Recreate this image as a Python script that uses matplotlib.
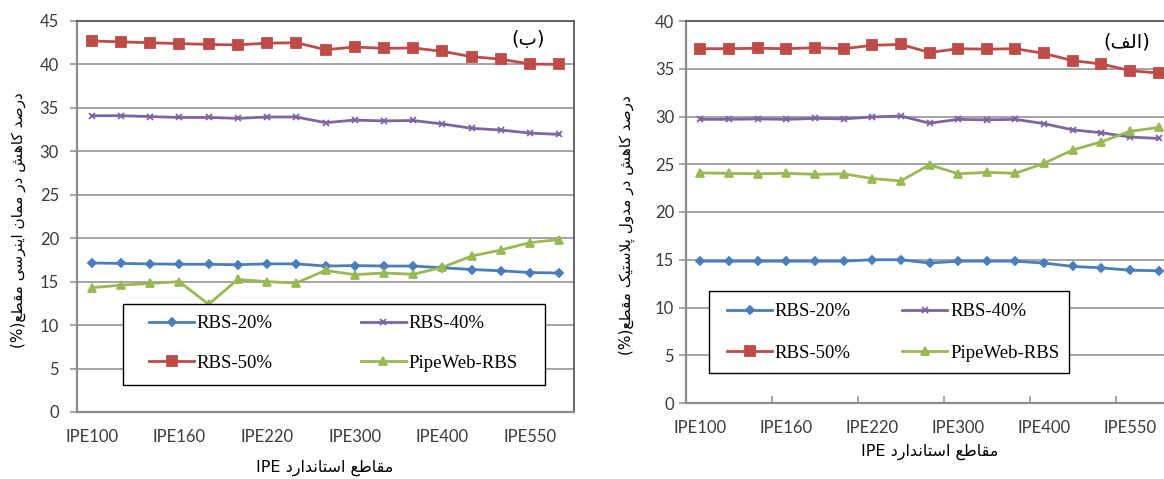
import matplotlib
matplotlib.use("Agg")
import matplotlib.pyplot as plt
from matplotlib.patches import Rectangle

# IPE sections on the x axis (labels shown every third one)
sections = ["IPE100", "IPE120", "IPE140", "IPE160", "IPE180", "IPE200", "IPE220", "IPE240", "IPE270",
            "IPE300", "IPE330", "IPE360", "IPE400", "IPE450", "IPE500", "IPE550", "IPE600"]

# (ب) reduction in moment of inertia (%)
ib_rbs20 = [17.15, 17.1, 17.05, 17.0, 17.0, 16.95, 17.05, 17.05, 16.8, 16.85, 16.8, 16.8, 16.6, 16.4, 16.25, 16.05, 16.0]
ib_rbs40 = [34.1, 34.1, 34.0, 33.9, 33.9, 33.8, 33.95, 33.95, 33.3, 33.6, 33.5, 33.55, 33.15, 32.65, 32.45, 32.1, 31.95]
ib_rbs50 = [42.7, 42.6, 42.5, 42.4, 42.3, 42.25, 42.45, 42.5, 41.7, 42.0, 41.85, 41.9, 41.5, 40.9, 40.6, 40.05, 40.0]
ib_pipe = [14.3, 14.6, 14.8, 15.0, 12.4, 15.25, 15.0, 14.85, 16.3, 15.8, 16.0, 15.85, 16.65, 17.95, 18.65, 19.5, 19.85]

# (الف) reduction in plastic modulus (%)
zp_rbs20 = [14.85, 14.85, 14.85, 14.85, 14.85, 14.85, 15.0, 15.0, 14.65, 14.85, 14.85, 14.85, 14.65, 14.3, 14.15, 13.9, 13.85]
zp_rbs40 = [29.7, 29.7, 29.75, 29.7, 29.8, 29.75, 29.95, 30.05, 29.3, 29.7, 29.65, 29.7, 29.25, 28.6, 28.3, 27.85, 27.7]
zp_rbs50 = [37.1, 37.1, 37.15, 37.1, 37.2, 37.1, 37.45, 37.55, 36.7, 37.1, 37.05, 37.1, 36.6, 35.85, 35.5, 34.8, 34.55]
zp_pipe = [24.1, 24.05, 24.0, 24.05, 23.95, 24.0, 23.5, 23.25, 24.95, 24.0, 24.15, 24.05, 25.1, 26.5, 27.35, 28.45, 28.85]

series_names = ["RBS-20%", "RBS-40%", "RBS-50%", "PipeWeb-RBS"]

# matplotlib has no arabic shaping, so pick the presentation forms by hand
# (isolated, final, initial, medial)
FORMS = {
    'ا': (0xFE8D, 0xFE8E, None, None),
    'ب': (0xFE8F, 0xFE90, 0xFE91, 0xFE92),
    'پ': (0xFB56, 0xFB57, 0xFB58, 0xFB59),
    'ت': (0xFE95, 0xFE96, 0xFE97, 0xFE98),
    'د': (0xFEA9, 0xFEAA, None, None),
    'ر': (0xFEAD, 0xFEAE, None, None),
    'س': (0xFEB1, 0xFEB2, 0xFEB3, 0xFEB4),
    'ش': (0xFEB5, 0xFEB6, 0xFEB7, 0xFEB8),
    'ص': (0xFEB9, 0xFEBA, 0xFEBB, 0xFEBC),
    'ط': (0xFEC1, 0xFEC2, 0xFEC3, 0xFEC4),
    'ع': (0xFEC9, 0xFECA, 0xFECB, 0xFECC),
    'ف': (0xFED1, 0xFED2, 0xFED3, 0xFED4),
    'ق': (0xFED5, 0xFED6, 0xFED7, 0xFED8),
    'ک': (0xFB8E, 0xFB8F, 0xFB90, 0xFB91),
    'ل': (0xFEDD, 0xFEDE, 0xFEDF, 0xFEE0),
    'م': (0xFEE1, 0xFEE2, 0xFEE3, 0xFEE4),
    'ن': (0xFEE5, 0xFEE6, 0xFEE7, 0xFEE8),
    'ه': (0xFEE9, 0xFEEA, 0xFEEB, 0xFEEC),
    'و': (0xFEED, 0xFEEE, None, None),
    'ی': (0xFBFC, 0xFBFD, 0xFBFE, 0xFBFF),
}


def fa(text):
    res = []
    i = 0
    while i < len(text):
        c = text[i]
        if c not in FORMS:
            res.append(c)
            i += 1
            continue
        prev = text[i - 1] if i > 0 else ''
        joined_prev = prev in FORMS and FORMS[prev][2] is not None
        if c == 'ل' and i + 1 < len(text) and text[i + 1] == 'ا':
            res.append(chr(0xFEFC if joined_prev else 0xFEFB))
            i += 2
            continue
        nxt = text[i + 1] if i + 1 < len(text) else ''
        joins_next = FORMS[c][2] is not None and nxt in FORMS
        iso, fin, ini, med = FORMS[c]
        if joined_prev and joins_next:
            g = med
        elif joined_prev:
            g = fin
        elif joins_next:
            g = ini
        else:
            g = iso
        res.append(chr(g))
        i += 1
    return ''.join(reversed(res))


colors = ["#4A7EBB", "#8064A2", "#BE4B48", "#98B954"]
markers = ["D", "x", "s", "^"]
msizes = [4, 5, 6.5, 6]
grid_c = "#8c8c8c"
tick_font = "Lato"
fa_font = "DejaVu Sans"

fig = plt.figure(figsize=(11.64, 4.79), dpi=100)


def draw_panel(ax, data, ymax, ypad, xticks_marks, box_right):
    x = list(range(len(sections)))
    for vals, name, c, m, ms in zip(data, series_names, colors, markers, msizes):
        ax.plot(x, vals, color=c, lw=2, marker=m, ms=ms, mec=c, mfc=c, mew=1.3, label=name, zorder=3)
    ax.set_xlim(-0.5, len(sections) - 0.5)
    ax.set_ylim(0, ymax)
    ax.set_yticks(range(0, ymax + 1, 5))
    ax.yaxis.grid(True, color=grid_c, lw=1.1)
    ax.set_axisbelow(True)
    # labels every 3rd section, tick marks between categories
    ax.set_xticks(x[::3])
    ax.set_xticklabels(sections[::3])
    ax.tick_params(axis="x", length=0, pad=12, labelsize=12, labelcolor="#3a3a3a")
    if xticks_marks:
        ax.set_xticks([k + 2.5 for k in range(0, 15, 3)], minor=True)
        ax.tick_params(axis="x", which="minor", direction="in", length=5, color=grid_c, width=1.1)
    ax.tick_params(axis="y", length=5, color=grid_c, width=1.1, pad=ypad, labelsize=12, labelcolor="#3a3a3a")
    for lab in ax.get_xticklabels() + ax.get_yticklabels():
        lab.set_fontfamily(tick_font)
    for s in ["left", "bottom"]:
        ax.spines[s].set_color(grid_c)
        ax.spines[s].set_linewidth(1.6)
    ax.spines["top"].set_color("#5a5a5a")
    ax.spines["top"].set_linewidth(1.3)
    ax.spines["right"].set_color("#5a5a5a")
    ax.spines["right"].set_linewidth(1.3)
    ax.spines["right"].set_visible(box_right)


def add_legend(ax, box, anchor, spacing, colspace):
    # white box with black frame, legend entries placed inside it
    ax.add_patch(Rectangle(box[:2], box[2], box[3], transform=ax.transAxes, facecolor="white",
                           edgecolor="black", lw=1.0, zorder=4))
    h, l = ax.get_legend_handles_labels()
    order = [0, 2, 1, 3]
    leg = ax.legend([h[k] for k in order], [l[k] for k in order], ncol=2, loc="center left",
                    bbox_to_anchor=anchor, borderaxespad=0, borderpad=0, frameon=False,
                    prop={"family": "Liberation Serif", "size": 13.5}, handlelength=2.4,
                    handletextpad=0.15, labelspacing=spacing, columnspacing=colspace)
    leg.set_zorder(5)


# left panel (ب)
ax1 = fig.add_axes([77 / 1164, 67 / 479, 497 / 1164, 391 / 479])
draw_panel(ax1, [ib_rbs20, ib_rbs40, ib_rbs50, ib_pipe], 45, 8, False, True)
add_legend(ax1, (46 / 497, 27 / 391, 422 / 497, 81 / 391), (72 / 497, 68.5 / 391), 1.2, 4.7)
ax1.text(545 / 1164, 1 - 39 / 479, "(" + fa("ب") + ")", transform=fig.transFigure, ha="right", va="center",
         fontsize=14, family=fa_font)

# right panel (الف), cut off at the image edge
ax2 = fig.add_axes([686 / 1164, 76 / 479, 487 / 1164, 382 / 479])
draw_panel(ax2, [zp_rbs20, zp_rbs40, zp_rbs50, zp_pipe], 40, 3.5, True, False)
add_legend(ax2, (23 / 487, 30 / 382, 360 / 487, 82 / 382), (41 / 487, 70.5 / 382), 1.3, 2.75)
ax2.text(1127 / 1164, 1 - 42 / 479, "(" + fa("الف") + ")", transform=fig.transFigure, ha="center",
         va="center", fontsize=14, family=fa_font)

# axis titles
xlab = "IPE " + fa("مقاطع استاندارد")
fig.text(325 / 1164, 1 - 468 / 479, xlab, ha="center", va="center", fontsize=11.5, family=fa_font)
fig.text(930 / 1164, 1 - 452 / 479, xlab, ha="center", va="center", fontsize=11.5, family=fa_font)
fig.text(18 / 1164, 1 - 220 / 479, "(%)" + fa("درصد کاهش در ممان اینرسی مقطع"), rotation=90,
         ha="center", va="center", fontsize=11, family=fa_font)
fig.text(627 / 1164, 1 - 225 / 479, "(%)" + fa("درصد کاهش در مدول پلاستیک مقطع"), rotation=90,
         ha="center", va="center", fontsize=11, family=fa_font)

fig.savefig("out.png", dpi=100)
